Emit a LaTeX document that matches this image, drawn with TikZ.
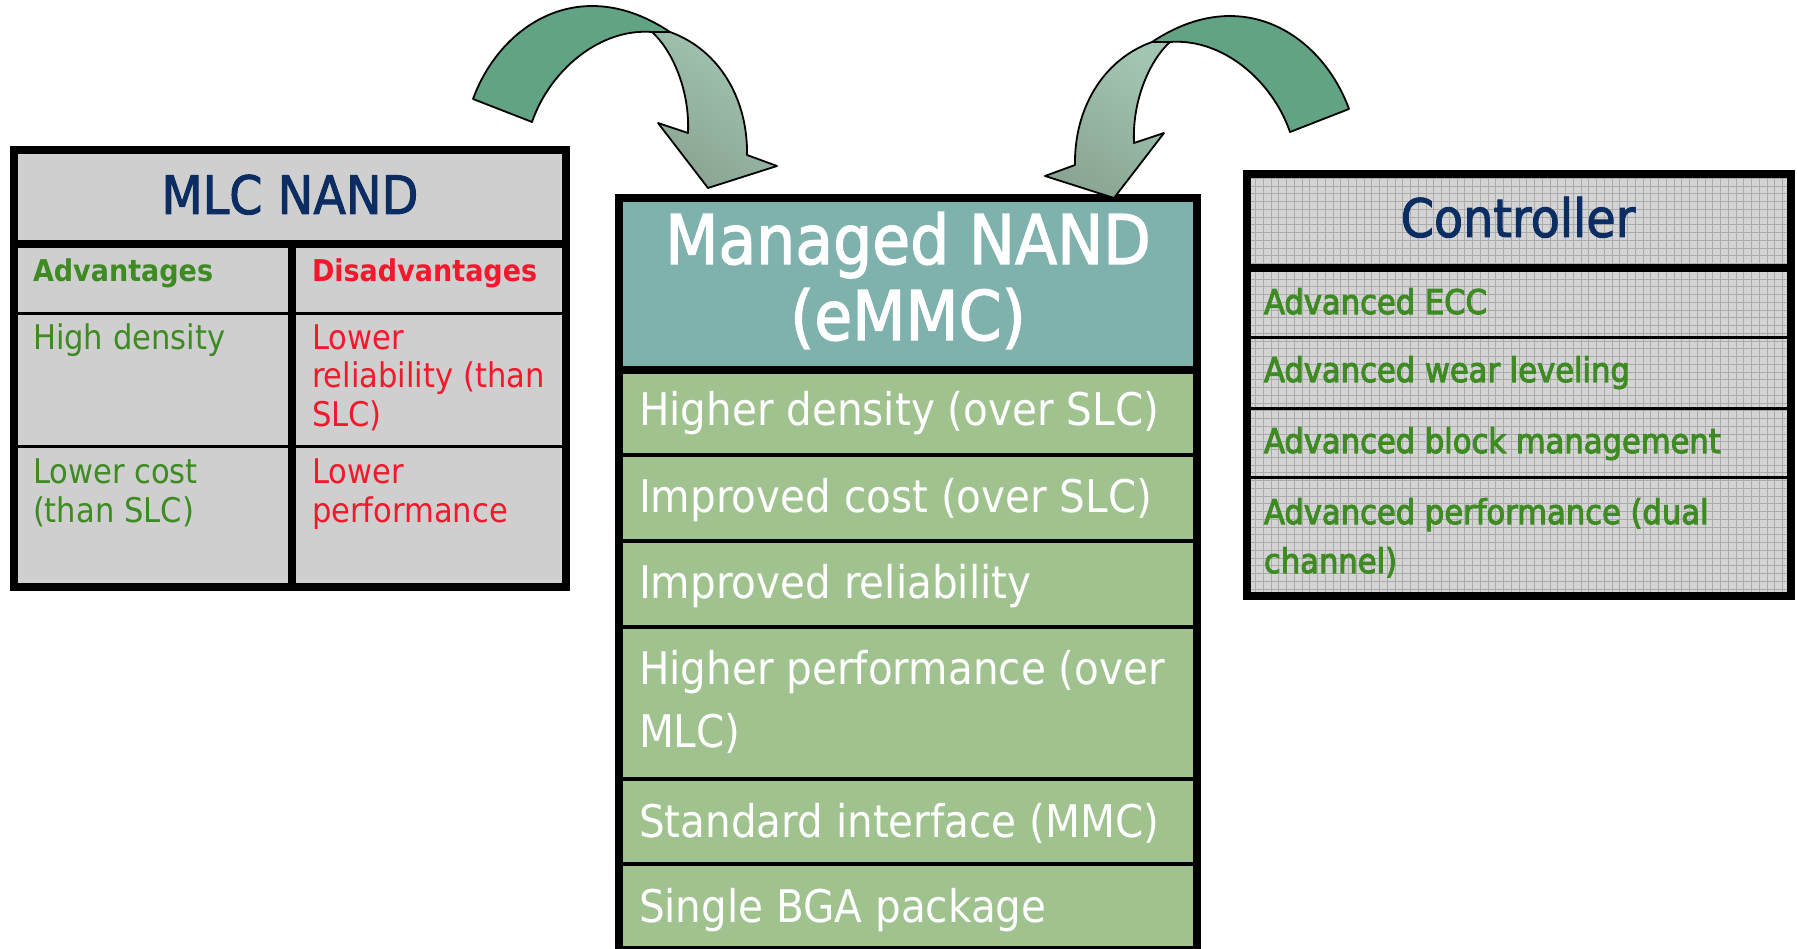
\documentclass[tikz,border=0pt]{standalone}
\usepackage{fontspec}
\setmainfont{DejaVu Sans}[FakeStretch=0.9]
\newfontfamily\titlefont{DejaVu Sans}[FakeStretch=0.9, FakeBold=1.8]
\newfontfamily\ctrlfont{DejaVu Sans}[FakeStretch=0.9, FakeBold=3]
\definecolor{navy}{HTML}{0C2D62}
\definecolor{leafgreen}{HTML}{3D8B22}
\definecolor{alarmred}{HTML}{F2192D}
\definecolor{cellgray}{HTML}{CFCFCF}
\definecolor{gridbase}{HTML}{D4D4D4}
\definecolor{gridink}{HTML}{ABABAB}
\definecolor{tealhead}{HTML}{7FB2AD}
\definecolor{sagerow}{HTML}{9FC28E}
\definecolor{bandfar}{HTML}{62A383}
\definecolor{bandnearA}{HTML}{A2C6B2}
\definecolor{bandnearB}{HTML}{8AA592}
\tikzset{
  frame/.style={draw=black, line width=8pt},
  thinrule/.style={draw=black, line width=3.5pt},
  lbl/.style={inner sep=0pt, outer sep=0pt},
  titletext/.style={lbl, anchor=base, text=navy, font=\titlefont\fontsize{53}{60}\selectfont},
  emmctitle/.style={lbl, anchor=base, text=white, font=\titlefont\fontsize{68.5}{78}\selectfont},
  protext/.style={lbl, anchor=base west, text=leafgreen, font=\fontsize{34}{40}\selectfont},
  context/.style={lbl, anchor=base west, text=alarmred, font=\fontsize{34}{40}\selectfont},
  prohead/.style={lbl, anchor=base west, text=leafgreen, font=\bfseries\fontsize{30}{36}\selectfont},
  conhead/.style={lbl, anchor=base west, text=alarmred, font=\bfseries\fontsize{30}{36}\selectfont},
  featuretext/.style={lbl, anchor=base west, text=white, font=\fontsize{45}{54}\selectfont},
  ctrltext/.style={lbl, anchor=base west, text=leafgreen, font=\ctrlfont\fontsize{34}{40}\selectfont},
  arrowline/.style={draw=black, line width=1.8pt, line join=round},
  nearband/.style={left color=bandnearA, right color=bandnearB, shading angle=-35},
}
% one curved ribbon arrow: far (dark) band, then the near band with the head
\newcommand\ribbonarrow{%
  \filldraw[arrowline, fill=bandfar]
    (473,99) .. controls (500,25) and (580,-28) .. (670,32)
    -- (652,32) .. controls (600,28) and (550,70) .. (532,122) -- cycle;
  \shadedraw[arrowline, nearband]
    (652,32) .. controls (672,50) and (690,90) .. (688,133)
    -- (658,123) -- (708,188) -- (777,166) -- (747,155)
    .. controls (748,100) and (720,50) .. (670,32) -- cycle;
}
\begin{document}
\begin{tikzpicture}[x=1pt, y=-1pt]
\useasboundingbox (0,0) rectangle (1797,949);

% ---------- MLC NAND table ----------
\fill[cellgray] (14,150) rectangle (566,587);
\draw[thinrule] (14,313.5) -- (566,313.5);
\draw[thinrule] (14,446.5) -- (566,446.5);
\draw[frame] (14,244) -- (566,244);
\draw[frame] (292,244) -- (292,587);
\draw[frame] (14,150) rectangle (566,587);

\node[titletext] (mlchead) at (290,214) {MLC NAND};
\node[prohead] (advhead) at (33,282) {Advantages};
\node[conhead] (disadvhead) at (312,282) {Disadvantages};
\node[protext] (proA) at (33,350) {High density};
\node[protext] (proBa) at (33,483) {Lower cost};
\node[protext] (proBb) at (33,522) {(than SLC)};
\node[context] (conAa) at (312,350) {Lower};
\node[context] (conAb) at (312,388) {reliability (than};
\node[context] (conAc) at (312,427) {SLC)};
\node[context] (conBa) at (312,483) {Lower};
\node[context] (conBb) at (312,522) {performance};

% ---------- Managed NAND column ----------
\fill[tealhead] (619,198) rectangle (1197,370);
\fill[sagerow] (619,370) rectangle (1197,950);
\foreach \yy in {455,541,627,779,864}
  \draw[black, line width=4pt] (619,\yy) -- (1197,\yy);
\draw[frame] (619,370) -- (1197,370);
\draw[frame] (619,198) rectangle (1197,950);

\node[emmctitle] (emmcA) at (908,264) {Managed NAND};
\node[emmctitle] (emmcB) at (908,340) {(eMMC)};
\node[featuretext] (featA) at (639,426) {Higher density (over SLC)};
\node[featuretext] (featB) at (639,512) {Improved cost (over SLC)};
\node[featuretext] (featC) at (639,598) {Improved reliability};
\node[featuretext] (featDa) at (639,684) {Higher performance (over};
\node[featuretext] (featDb) at (639,747) {MLC)};
\node[featuretext] (featE) at (639,837) {Standard interface (MMC)};
\node[featuretext] (featF) at (639,922) {Single BGA package};

% ---------- Controller table ----------
\fill[gridbase] (1247,174) rectangle (1791,596);
\begin{scope}
  \clip (1247,174) rectangle (1791,596);
  \draw[gridink, line width=0.9pt, step=7.75pt] (1240,610) grid (1800,160);
\end{scope}
\draw[thinrule] (1247,337.5) -- (1791,337.5);
\draw[thinrule] (1247,408.5) -- (1791,408.5);
\draw[thinrule] (1247,477.5) -- (1791,477.5);
\draw[frame] (1247,268) -- (1791,268);
\draw[frame] (1247,174) rectangle (1791,596);

\node[titletext] (ctrlhead) at (1518,237) {Controller};
\node[ctrltext] (ctrlA) at (1264,314) {Advanced ECC};
\node[ctrltext] (ctrlB) at (1264,382) {Advanced wear leveling};
\node[ctrltext] (ctrlC) at (1264,453) {Advanced block management};
\node[ctrltext] (ctrlDa) at (1264,524) {Advanced performance (dual};
\node[ctrltext] (ctrlDb) at (1264,573) {channel)};

% ---------- curved arrows into the Managed NAND column ----------
\begin{scope}
  \ribbonarrow
\end{scope}
\begin{scope}[shift={(1822,10)}, xscale=-1]
  \ribbonarrow
\end{scope}
\end{tikzpicture}
\end{document}
